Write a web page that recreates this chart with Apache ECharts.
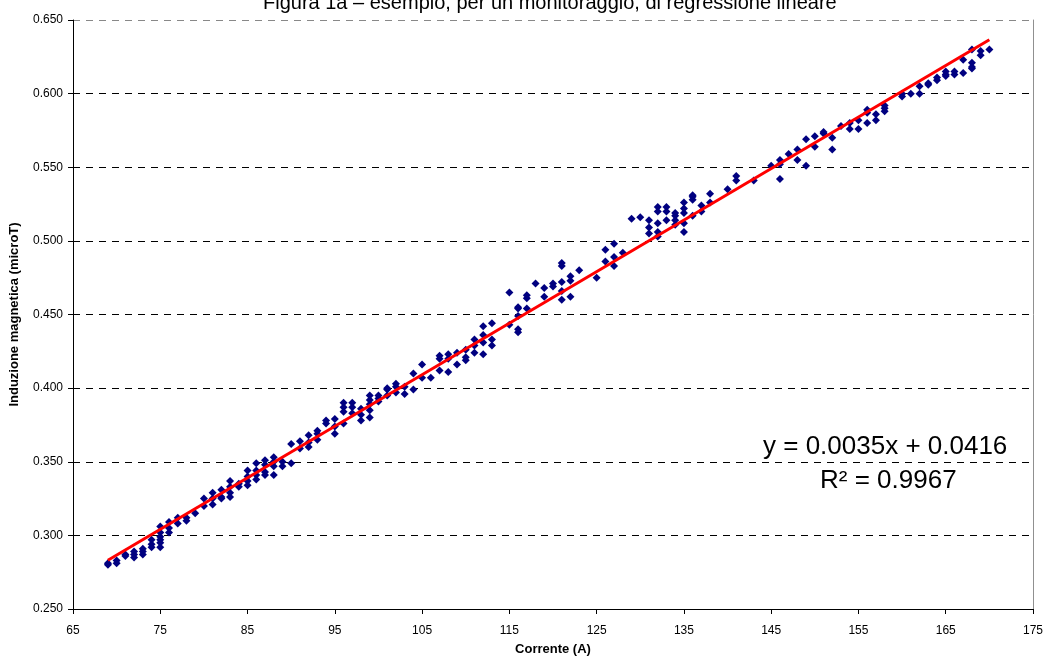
<!DOCTYPE html>
<html>
<head>
<meta charset="utf-8">
<title>Figura 1a</title>
<script src="https://cdn.jsdelivr.net/npm/echarts@6/dist/echarts.min.js"></script>
<style>
  html, body { margin: 0; padding: 0; background: #ffffff; }
  #chart { width: 1043px; height: 659px; }
</style>
</head>
<body>
<div id="chart"></div>
<script>
// monitoraggio: corrente (A) e induzione magnetica (microT)
var currentA = [
  69, 69, 70, 70, 71, 71, 72, 72, 72, 73, 73, 73, 74, 74, 74,
  75, 75, 75, 75, 75, 75, 76, 76, 76, 77, 77, 78, 78, 79, 80, 80,
  81, 81, 81, 82, 82, 82, 83, 83, 83, 83, 84, 84,
  85, 85, 85, 85, 86, 86, 86, 86, 87, 87, 87, 87, 88, 88, 88, 88,
  89, 89, 90, 90, 91, 91, 92, 92, 92, 93, 93, 93, 94, 94,
  95, 95, 95, 96, 96, 96, 96, 97, 97, 97, 98, 98, 98,
  99, 99, 99, 99, 99, 100, 100, 100, 101, 101, 101, 102, 102, 102,
  103, 103, 104, 104, 105, 105, 106, 107, 107, 107, 108, 108, 108,
  109, 109, 110, 110, 110, 111, 111, 111, 112, 112, 112, 112, 113, 113, 113,
  115, 115, 116, 116, 116, 116, 116, 117, 117, 117, 118, 119, 119, 120, 120,
  121, 121, 121, 121, 121, 122, 122, 122, 123, 125, 126, 126, 127, 127, 127,
  128, 129, 130, 131, 131, 131, 132, 132, 132, 132, 132, 133, 133, 133,
  134, 134, 134, 134, 135, 135, 135, 135, 135, 136, 136, 136, 136,
  137, 137, 138, 138, 140, 141, 141, 143, 145, 146, 146, 146, 147, 148, 148,
  149, 149, 150, 150, 151, 151, 152, 152, 153, 154, 154, 155, 155,
  156, 156, 156, 157, 157, 158, 158, 158, 160, 160, 161, 162, 162, 163, 163,
  164, 164, 165, 165, 165, 166, 166, 167, 167, 168, 168, 168, 168, 169, 169, 170
];
var inductionMicroT = [
  0.280, 0.281, 0.283, 0.281, 0.287, 0.286, 0.289, 0.287, 0.285, 0.291, 0.289, 0.287, 0.297, 0.294, 0.292,
  0.306, 0.302, 0.299, 0.297, 0.295, 0.292, 0.309, 0.305, 0.302, 0.312, 0.308, 0.312, 0.310, 0.315, 0.325, 0.320,
  0.329, 0.325, 0.321, 0.331, 0.326, 0.325, 0.337, 0.333, 0.329, 0.326, 0.335, 0.333,
  0.344, 0.340, 0.337, 0.334, 0.349, 0.344, 0.341, 0.338, 0.351, 0.348, 0.343, 0.341, 0.353, 0.350, 0.347, 0.341,
  0.350, 0.347, 0.362, 0.349, 0.364, 0.359, 0.368, 0.363, 0.360, 0.371, 0.369, 0.365, 0.378, 0.376,
  0.379, 0.374, 0.369, 0.390, 0.387, 0.384, 0.376, 0.390, 0.387, 0.383, 0.386, 0.382, 0.378,
  0.395, 0.392, 0.389, 0.385, 0.380, 0.395, 0.393, 0.391, 0.400, 0.399, 0.395, 0.403, 0.401, 0.397,
  0.401, 0.396, 0.410, 0.399, 0.416, 0.407, 0.407, 0.422, 0.420, 0.412, 0.423, 0.420, 0.411,
  0.424, 0.416, 0.426, 0.421, 0.419, 0.433, 0.429, 0.424, 0.442, 0.436, 0.431, 0.423, 0.444, 0.433, 0.429,
  0.465, 0.443, 0.455, 0.454, 0.449, 0.440, 0.438, 0.463, 0.461, 0.454, 0.471, 0.468, 0.462, 0.471, 0.469,
  0.485, 0.483, 0.472, 0.466, 0.460, 0.476, 0.473, 0.462, 0.480, 0.475, 0.494, 0.486, 0.498, 0.489, 0.483,
  0.492, 0.515, 0.516, 0.514, 0.509, 0.505, 0.523, 0.520, 0.512, 0.506, 0.503, 0.523, 0.520, 0.514,
  0.519, 0.517, 0.514, 0.511, 0.526, 0.522, 0.519, 0.512, 0.506, 0.531, 0.530, 0.528, 0.517,
  0.524, 0.520, 0.532, 0.526, 0.535, 0.544, 0.541, 0.541, 0.551, 0.555, 0.552, 0.542, 0.559, 0.562, 0.555,
  0.569, 0.551, 0.571, 0.564, 0.574, 0.573, 0.570, 0.562, 0.578, 0.580, 0.576, 0.582, 0.576,
  0.589, 0.587, 0.580, 0.586, 0.582, 0.592, 0.590, 0.588, 0.600, 0.598, 0.600, 0.605, 0.600, 0.607, 0.606,
  0.611, 0.609, 0.615, 0.613, 0.612, 0.615, 0.613, 0.623, 0.614, 0.630, 0.621, 0.618, 0.617, 0.629, 0.626, 0.630
];

// assi
var xMin = 65, xMax = 175, xStep = 10;
var yMin = 0.25, yMax = 0.65, yStep = 0.05;

// retta di regressione (Excel)
var slope = 0.0035;
var intercept = 0.0416;
var rSquared = 0.9967;
var trendFrom = 69, trendTo = 170;

var points = currentA.map(function (x, i) { return [x, inductionMicroT[i]]; });
var trendLine = [trendFrom, trendTo].map(function (x) { return [x, slope * x + intercept]; });

var font = 'Arial, "Liberation Sans", sans-serif';

var chart = echarts.init(document.getElementById('chart'));
chart.setOption({
  animation: false,
  backgroundColor: '#ffffff',
  title: {
    text: 'Figura 1a – esempio, per un monitoraggio, di regressione lineare',
    left: 258,
    top: -12,
    textStyle: { fontFamily: font, fontSize: 20, fontWeight: 'normal', color: '#000000' }
  },
  grid: { left: 73, right: 10, top: 20, bottom: 50, outerBoundsMode: 'none', containLabel: false },
  xAxis: {
    type: 'value',
    min: xMin, max: xMax, interval: xStep,
    name: 'Corrente (A)',
    nameLocation: 'middle',
    nameGap: 34,
    nameTextStyle: { fontFamily: font, fontSize: 13, fontWeight: 'bold', color: '#000000' },
    axisLine: { show: true, onZero: false, lineStyle: { color: '#000000', width: 1 } },
    axisTick: { show: true, inside: false, length: 5, lineStyle: { color: '#000000' } },
    axisLabel: { margin: 16, fontFamily: font, fontSize: 12, color: '#000000' },
    splitLine: { show: false }
  },
  yAxis: [{
    type: 'value',
    min: yMin, max: yMax, interval: yStep,
    name: 'Induzione magnetica (microT)',
    nameLocation: 'middle',
    nameGap: 52,
    nameTextStyle: { fontFamily: font, fontSize: 13, fontWeight: 'bold', color: '#000000' },
    axisLine: { show: true, onZero: false, lineStyle: { color: '#000000', width: 1 } },
    axisTick: { show: true, inside: false, length: 5, lineStyle: { color: '#000000' } },
    axisLabel: {
      margin: 10, fontFamily: font, fontSize: 12, color: '#000000',
      formatter: function (v) { return v.toFixed(3); }
    },
    splitLine: {
      show: true,
      lineStyle: {
        color: ['#000000', '#000000', '#000000', '#000000', '#000000', '#000000', '#000000', '#000000', '#888888'],
        width: 1,
        type: [7, 6]
      }
    }
  }, {
    type: 'value',
    position: 'right',
    min: yMin, max: yMax, interval: yStep,
    axisLine: { show: true, onZero: false, lineStyle: { color: '#909090', width: 1 } },
    axisTick: { show: false },
    axisLabel: { show: false },
    splitLine: { show: false }
  }],
  series: [{
    name: 'Induzione magnetica',
    type: 'scatter',
    data: points,
    symbol: 'diamond',
    symbolSize: 8,
    itemStyle: { color: '#000080', opacity: 1 },
    z: 2
  }, {
    name: 'Lineare',
    type: 'line',
    data: trendLine,
    showSymbol: false,
    symbol: 'none',
    lineStyle: { color: '#ff0000', width: 3 },
    z: 3
  }],
  graphic: [{
    type: 'text',
    left: 763, top: 434,
    style: {
      text: 'y = ' + slope.toFixed(4) + 'x + ' + intercept.toFixed(4),
      font: '26px ' + font,
      fill: '#000000'
    }
  }, {
    type: 'text',
    left: 820, top: 468,
    style: {
      text: 'R² = ' + rSquared.toFixed(4),
      font: '26px ' + font,
      fill: '#000000'
    }
  }]
});
</script>
</body>
</html>
